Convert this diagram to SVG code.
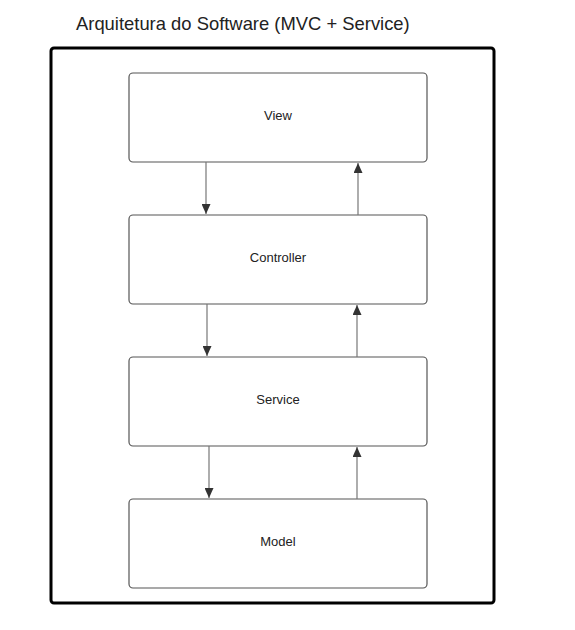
<svg xmlns="http://www.w3.org/2000/svg" width="575" height="630" viewBox="0 0 575 630">
<style>
.title{font-family:"Liberation Sans",Arial,sans-serif;font-size:18.4px;fill:#222}
.box{fill:#fff;stroke:#555;stroke-width:1.2}
.lbl{font-family:"Liberation Sans",Arial,sans-serif;font-size:13px;fill:#222;text-anchor:middle}
.edge{stroke:#777;stroke-width:1.2;fill:none}
</style>
<defs>
<marker id="ah" viewBox="0 0 10 10" refX="10" refY="5" markerWidth="10" markerHeight="9" markerUnits="userSpaceOnUse" orient="auto" preserveAspectRatio="none">
<path d="M0,0 L10,5 L0,10 z" fill="#333"/>
</marker>
</defs>
<rect width="575" height="630" fill="#fff"/>
<text class="title" x="76" y="30">Arquitetura do Software (MVC + Service)</text>
<rect x="51" y="48" width="443" height="555" rx="3" fill="#fff" stroke="#000" stroke-width="3"/>
<g id="view"><rect class="box" x="129" y="73" width="298" height="89" rx="4"/><text class="lbl" x="278" y="120">View</text></g>
<g id="controller"><rect class="box" x="129" y="215" width="298" height="89" rx="4"/><text class="lbl" x="278" y="262">Controller</text></g>
<g id="service"><rect class="box" x="129" y="357" width="298" height="89" rx="4"/><text class="lbl" x="278" y="404">Service</text></g>
<g id="model"><rect class="box" x="129" y="499" width="298" height="89" rx="4"/><text class="lbl" x="278" y="546">Model</text></g>
<g id="connectors">
<path class="edge" d="M206,162 L206,214" marker-end="url(#ah)"/>
<path class="edge" d="M358,215 L358,163" marker-end="url(#ah)"/>
<path class="edge" d="M207,304 L207,356" marker-end="url(#ah)"/>
<path class="edge" d="M357,357 L357,305" marker-end="url(#ah)"/>
<path class="edge" d="M209,446 L209,498" marker-end="url(#ah)"/>
<path class="edge" d="M357,499 L357,447" marker-end="url(#ah)"/>
</g>
</svg>
